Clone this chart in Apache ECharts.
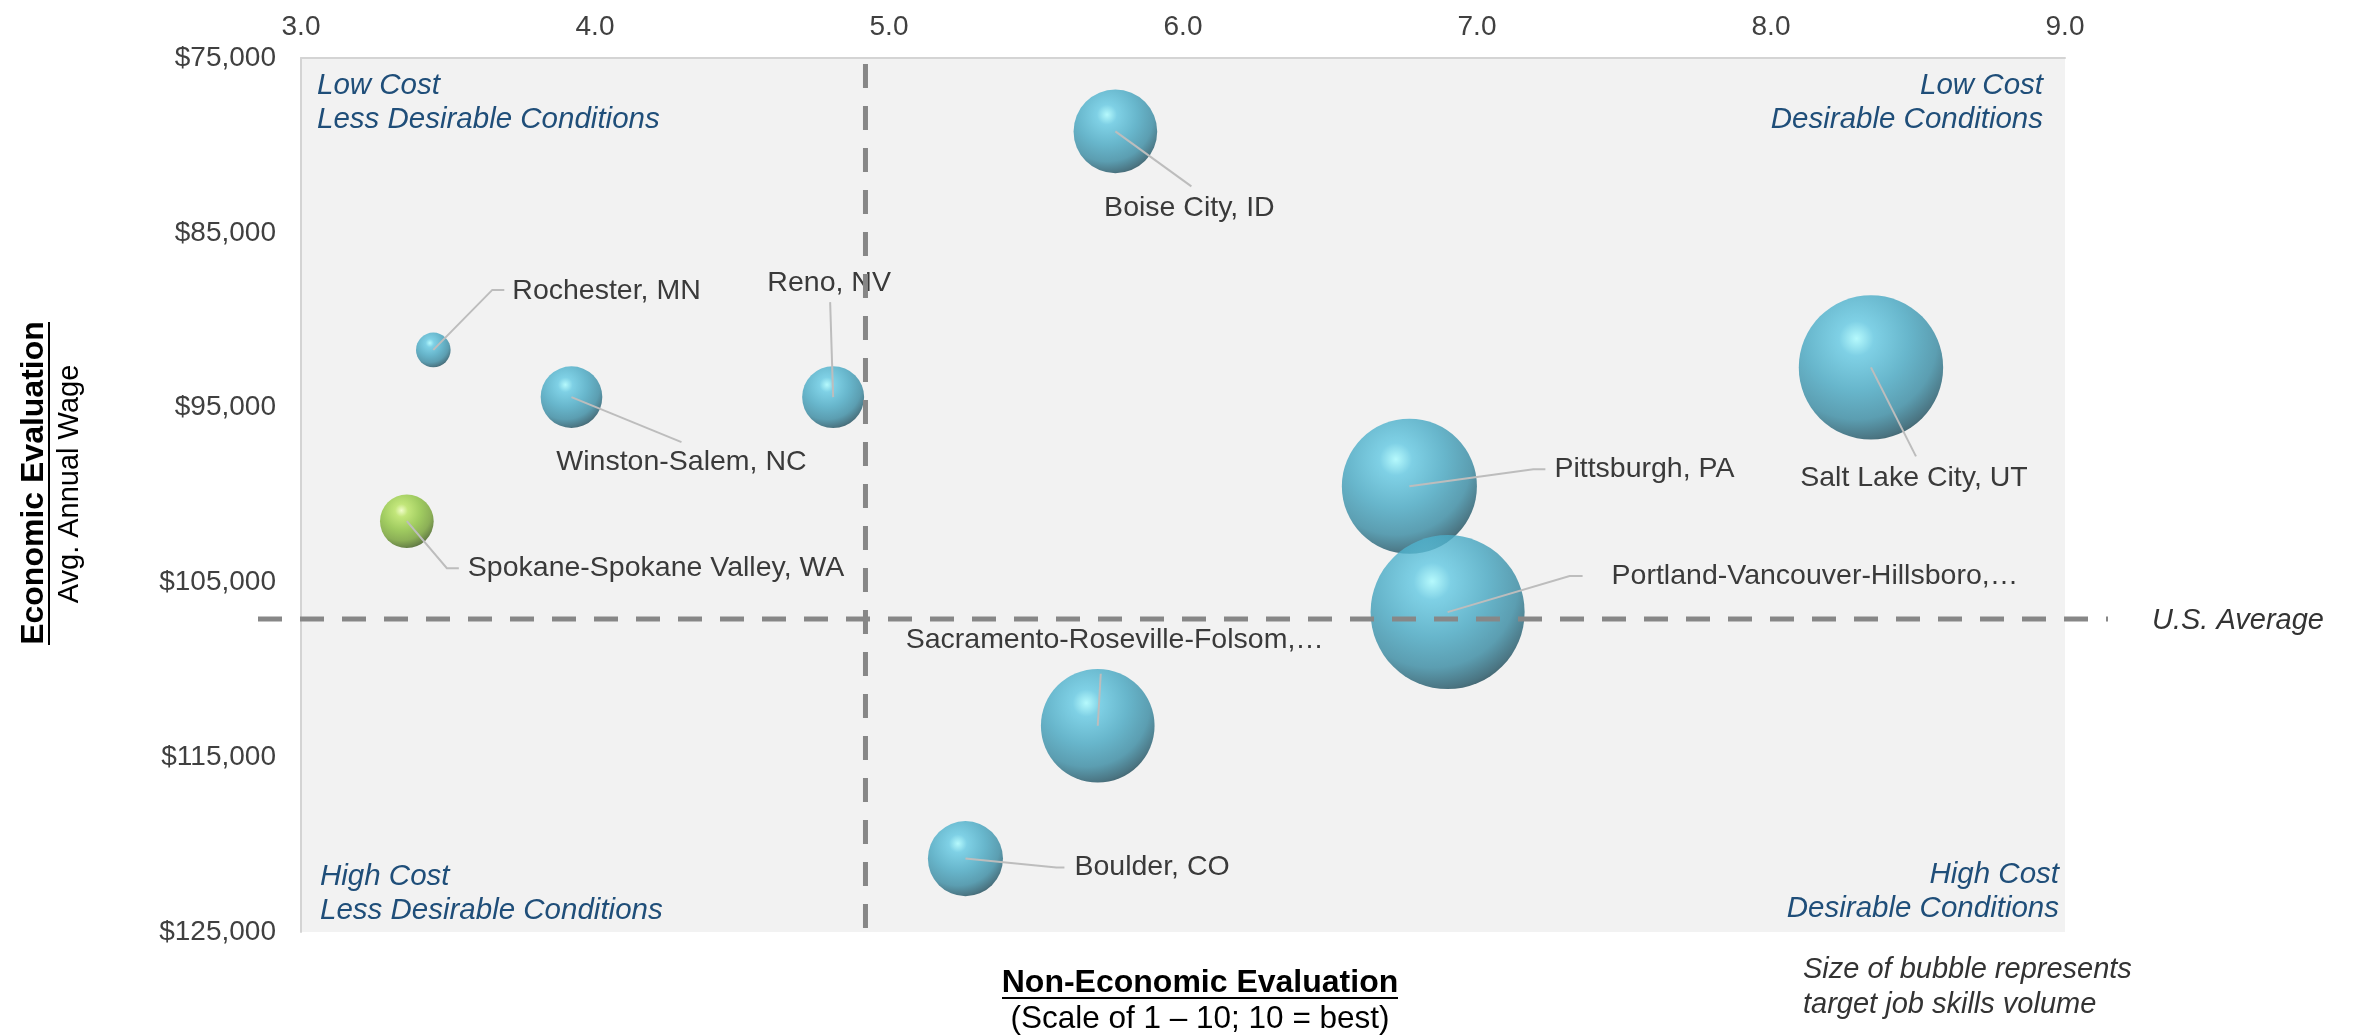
<!DOCTYPE html>
<html>
<head>
<meta charset="utf-8">
<title>Economic vs Non-Economic Evaluation</title>
<script src="https://cdn.jsdelivr.net/npm/echarts@6/dist/echarts.min.js"></script>
<style>
  html, body { margin: 0; padding: 0; background: #fff; }
  #chart { width: 2357px; height: 1035px; }
</style>
</head>
<body>
<div id="chart"></div>
<script>
// metro areas, as they are labelled on the chart
const cities = [
  "Boise City, ID",
  "Rochester, MN",
  "Winston-Salem, NC",
  "Reno, NV",
  "Spokane-Spokane Valley, WA",
  "Pittsburgh, PA",
  "Salt Lake City, UT",
  "Portland-Vancouver-Hillsboro,…",
  "Sacramento-Roseville-Folsom,…",
  "Boulder, CO"
];
// non-economic score (1-10)
const nonEconScore = [5.77, 3.45, 3.92, 4.81, 3.36, 6.77, 8.34, 6.90, 5.71, 5.26];
// avg annual wage
const avgWage = [79200, 91700, 94400, 94400, 101500, 99500, 92700, 106700, 113200, 120800];
// target job skills volume (bubble size)
const skillsVolume = [1750, 300, 950, 960, 720, 4560, 5210, 5930, 3230, 1410];
const greenCity = "Spokane-Spokane Valley, WA";

const scoreRange = [3, 9];
const wageRange = [75000, 125000];
const usAvgWage = 107100;
const midScore = 4.92;

// where each label sits, in px from its bubble centre
const labelSpots = [
  { end: [76, 55], text: [74, 77], align: "center" },
  { elbow: [59, -60], end: [71, -60], text: [79, -59], align: "left" },
  { end: [110, 45], text: [110, 65], align: "center" },
  { end: [-3, -95], text: [-4, -114], align: "center" },
  { elbow: [40, 47], end: [52, 47], text: [61, 47], align: "left" },
  { elbow: [124, -17], end: [136, -17], text: [145, -17], align: "left" },
  { end: [45, 89], text: [43, 111], align: "center" },
  { elbow: [122, -36], end: [135, -36], text: [164, -36], align: "left" },
  { end: [3, -52], text: [17, -86], align: "center" },
  { elbow: [91, 9], end: [99, 9], text: [109, 9], align: "left" }
];

const quadrants = [
  { at: [3, 75000], text: "Low Cost\nLess Desirable Conditions", dx: 16, dy: 11, align: "left", vAlign: "top" },
  { at: [9, 75000], text: "Low Cost\nDesirable Conditions", dx: -22, dy: 11, align: "right", vAlign: "top" },
  { at: [3, 125000], text: "High Cost\nLess Desirable Conditions", dx: 19, dy: -4, align: "left", vAlign: "bottom" },
  { at: [9, 125000], text: "High Cost\nDesirable Conditions", dx: -6, dy: -6, align: "right", vAlign: "bottom" }
];

const FONT = '"Liberation Sans", Arial, sans-serif';

const blueBall = new echarts.graphic.RadialGradient(0.4, 0.3, 0.8, [
  { offset: 0, color: "#a6fbff" },
  { offset: 0.15, color: "#62c8e2" },
  { offset: 0.45, color: "#45a7c2" },
  { offset: 0.7, color: "#3689a1" },
  { offset: 0.87, color: "#215667" },
  { offset: 1, color: "#0a1f25" }
]);
const greenBall = new echarts.graphic.RadialGradient(0.4, 0.3, 0.8, [
  { offset: 0, color: "#f0ffbf" },
  { offset: 0.15, color: "#b6e35c" },
  { offset: 0.45, color: "#8cc23c" },
  { offset: 0.7, color: "#729f30" },
  { offset: 0.87, color: "#45661d" },
  { offset: 1, color: "#16260b" }
]);

const bubbles = cities.map((c, i) => ({
  name: c,
  value: [nonEconScore[i], avgWage[i], skillsVolume[i]],
  itemStyle: { color: c === greenCity ? greenBall : blueBall }
}));

const chartDom = document.getElementById("chart");
const myChart = echarts.init(chartDom);

const option = {
  animation: false,
  grid: {
    left: 301,
    right: 292,
    top: 58,
    bottom: 103,
    show: true,
    backgroundColor: "#f2f2f2",
    borderWidth: 0
  },
  xAxis: {
    type: "value",
    position: "top",
    min: scoreRange[0],
    max: scoreRange[1],
    interval: 1,
    axisLine: { show: true, lineStyle: { color: "#d4d4d4", width: 2 } },
    axisTick: { show: false },
    splitLine: { show: false },
    axisLabel: {
      margin: 17,
      color: "#404040",
      fontSize: 28,
      fontFamily: FONT,
      formatter: (v) => v.toFixed(1)
    }
  },
  yAxis: {
    type: "value",
    inverse: true,
    min: wageRange[0],
    max: wageRange[1],
    interval: 10000,
    axisLine: { show: true, lineStyle: { color: "#d4d4d4", width: 2 } },
    axisTick: { show: false },
    splitLine: { show: false },
    axisLabel: {
      margin: 25,
      color: "#404040",
      fontSize: 28,
      fontFamily: FONT,
      formatter: (v) => "$" + v.toLocaleString("en-US")
    }
  },
  series: [
    {
      name: "bubbles",
      type: "scatter",
      z: 2,
      data: bubbles,
      symbolSize: (val) => 2 * Math.sqrt(val[2]),
      emphasis: { disabled: true }
    },
    {
      name: "labels",
      type: "custom",
      z: 3,
      silent: true,
      data: cities.map((c, i) => [nonEconScore[i], avgWage[i]]),
      renderItem: (params, api) => {
        const i = params.dataIndex;
        const c = api.coord([api.value(0), api.value(1)]);
        const spot = labelSpots[i];
        const pts = [c];
        if (spot.elbow) pts.push([c[0] + spot.elbow[0], c[1] + spot.elbow[1]]);
        pts.push([c[0] + spot.end[0], c[1] + spot.end[1]]);
        return {
          type: "group",
          children: [
            {
              type: "polyline",
              shape: { points: pts },
              style: { stroke: "#bdbdbd", lineWidth: 2, fill: null }
            },
            {
              type: "text",
              x: c[0] + spot.text[0],
              y: c[1] + spot.text[1],
              style: {
                text: cities[i],
                fill: "#3a3a3a",
                font: "28.5px " + FONT,
                align: spot.align,
                verticalAlign: "middle"
              }
            }
          ]
        };
      }
    },
    {
      name: "quadrants",
      type: "custom",
      z: 3,
      silent: true,
      data: quadrants.map((q) => q.at),
      renderItem: (params, api) => {
        const q = quadrants[params.dataIndex];
        const p = api.coord([api.value(0), api.value(1)]);
        return {
          type: "text",
          x: p[0] + q.dx,
          y: p[1] + q.dy,
          style: {
            text: q.text,
            fill: "#1f4e79",
            font: "italic 29.5px " + FONT,
            lineHeight: 34,
            align: q.align,
            verticalAlign: q.vAlign
          }
        };
      }
    },
    {
      name: "reference",
      type: "custom",
      z: 4,
      silent: true,
      data: [[midScore, usAvgWage]],
      renderItem: (params, api) => {
        const cs = params.coordSys;
        const p = api.coord([api.value(0), api.value(1)]);
        const dash = { stroke: "#878787", lineWidth: 5, lineDash: [24, 18] };
        return {
          type: "group",
          children: [
            {
              type: "line",
              shape: { x1: cs.x - 43, y1: p[1], x2: cs.x + cs.width + 43, y2: p[1] },
              style: dash
            },
            {
              type: "line",
              shape: { x1: p[0], y1: cs.y + 6, x2: p[0], y2: cs.y + cs.height - 3 },
              style: dash
            },
            {
              type: "text",
              x: cs.x + cs.width + 87,
              y: p[1] + 2,
              style: {
                text: "U.S. Average",
                fill: "#333333",
                font: "italic 29px " + FONT,
                verticalAlign: "middle"
              }
            }
          ]
        };
      }
    }
  ],
  graphic: [
    {
      type: "text",
      x: 34,
      y: 483,
      rotation: Math.PI / 2,
      style: { text: "Economic Evaluation", font: "bold 32px " + FONT, fill: "#000", align: "center", verticalAlign: "middle" }
    },
    { type: "line", shape: { x1: 49, y1: 322, x2: 49, y2: 645 }, style: { stroke: "#000", lineWidth: 2 } },
    {
      type: "text",
      x: 70,
      y: 484,
      rotation: Math.PI / 2,
      style: { text: "Avg. Annual Wage", font: "29px " + FONT, fill: "#000", align: "center", verticalAlign: "middle" }
    },
    {
      type: "text",
      x: 1200,
      y: 983,
      style: { text: "Non-Economic Evaluation", font: "bold 32px " + FONT, fill: "#000", align: "center", verticalAlign: "middle" }
    },
    { type: "line", shape: { x1: 1002, y1: 998, x2: 1398, y2: 998 }, style: { stroke: "#000", lineWidth: 2 } },
    {
      type: "text",
      x: 1200,
      y: 1019,
      style: { text: "(Scale of 1 – 10; 10 = best)", font: "31.5px " + FONT, fill: "#000", align: "center", verticalAlign: "middle" }
    },
    {
      type: "text",
      x: 1803,
      y: 987,
      style: {
        text: "Size of bubble represents\ntarget job skills volume",
        font: "italic 29px " + FONT,
        fill: "#333333",
        lineHeight: 35,
        verticalAlign: "middle"
      }
    }
  ]
};

option && myChart.setOption(option);
</script>
</body>
</html>
